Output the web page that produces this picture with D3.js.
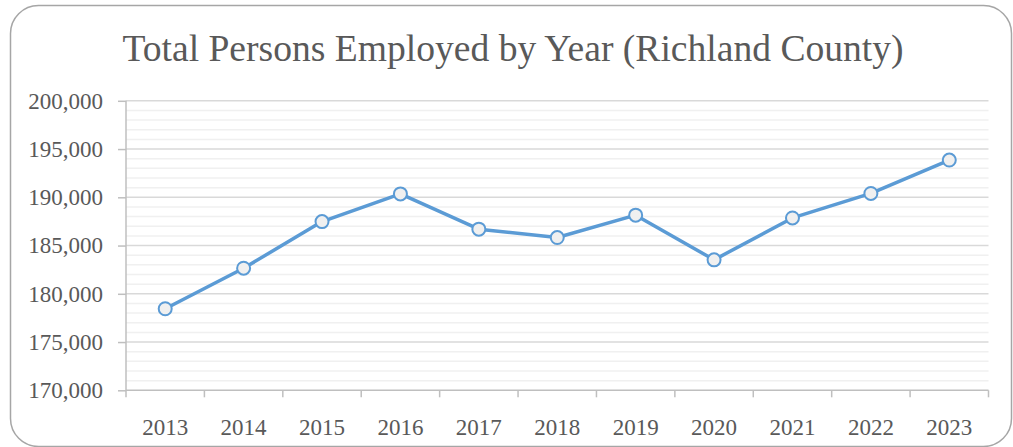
<!DOCTYPE html>
<html>
<head>
<meta charset="utf-8">
<script src="https://cdn.jsdelivr.net/npm/d3@7"></script>
<style>
  html, body { margin: 0; padding: 0; background: #ffffff; }
  svg { display: block; }
</style>
</head>
<body>
<svg id="chart" width="1013" height="447"></svg>
<script>
// Employment totals, Richland County
const years = ["2013", "2014", "2015", "2016", "2017", "2018", "2019", "2020", "2021", "2022", "2023"];
const employed = [178450, 182650, 187480, 190350, 186700, 185830, 188150, 183520, 187860, 190400, 193860];
const yTicks = [170000, 175000, 180000, 185000, 190000, 195000, 200000];
const chartTitle = "Total Persons Employed by Year (Richland County)";

const W = 1013, H = 447;
const margin = { left: 126, right: 1013 - 988.5, top: 100.8, bottom: 447 - 390.3 };
const svg = d3.select("#chart");
const serif = "'Liberation Serif', 'Times New Roman', serif";

// outer frame with rounded corners
svg.append("rect")
  .attr("x", 10.5).attr("y", 5.5)
  .attr("width", 1001).attr("height", 441)
  .attr("rx", 28).attr("ry", 28)
  .attr("fill", "#ffffff")
  .attr("stroke", "#a6a6a6")
  .attr("stroke-width", 1.5);

svg.append("text")
  .attr("x", 513).attr("y", 61)
  .attr("text-anchor", "middle")
  .attr("font-family", serif)
  .attr("font-size", 37.6)
  .attr("fill", "#595959")
  .text(chartTitle);

const x = d3.scaleBand()
  .domain(years)
  .range([margin.left, W - margin.right])
  .paddingInner(0).paddingOuter(0);

const y = d3.scaleLinear()
  .domain([170000, 200000])
  .range([H - margin.bottom, margin.top]);

const x0 = margin.left, x1 = W - margin.right;

// minor gridlines every 1,000
const minor = d3.range(171000, 200000, 1000).filter(v => v % 5000 !== 0);
svg.append("g").selectAll("line").data(minor).join("line")
  .attr("x1", x0).attr("x2", x1)
  .attr("y1", d => y(d)).attr("y2", d => y(d))
  .attr("stroke", "#f0f0f0").attr("stroke-width", 1.5);

// major gridlines every 5,000
svg.append("g").selectAll("line").data(yTicks.filter(v => v > 170000)).join("line")
  .attr("x1", x0).attr("x2", x1)
  .attr("y1", d => y(d)).attr("y2", d => y(d))
  .attr("stroke", "#d9d9d9").attr("stroke-width", 1.5);

// y axis
const yAxis = svg.append("g")
  .attr("transform", `translate(${x0},0)`)
  .call(d3.axisLeft(y).tickValues(yTicks).tickSize(8).tickPadding(15)
    .tickFormat(d3.format(",")));
yAxis.select(".domain").attr("stroke", "#bfbfbf").attr("stroke-width", 1.5)
  .attr("d", `M0,${y(200000)}V${y(170000)}`);
yAxis.selectAll(".tick line").attr("stroke", "#bfbfbf").attr("stroke-width", 1.5);
yAxis.selectAll(".tick text")
  .attr("font-family", serif).attr("font-size", 23).attr("fill", "#595959");

// x axis with ticks between categories
const xAxis = svg.append("g")
  .attr("transform", `translate(0,${y(170000)})`)
  .call(d3.axisBottom(x).tickSize(0).tickPadding(28));
xAxis.select(".domain").attr("stroke", "#bfbfbf").attr("stroke-width", 1.5)
  .attr("d", `M${x0},0H${x1}`);
xAxis.selectAll(".tick text")
  .attr("font-family", serif).attr("font-size", 23).attr("fill", "#595959");
const bounds = years.map(d => x(d)).concat([x1]);
xAxis.append("g").selectAll("line").data(bounds).join("line")
  .attr("x1", d => d).attr("x2", d => d)
  .attr("y1", 0).attr("y2", 7)
  .attr("stroke", "#bfbfbf").attr("stroke-width", 1.5);

// series line and markers
const cx = d => x(d) + x.bandwidth() / 2;
const pts = years.map((yr, i) => [cx(yr), y(employed[i])]);

svg.append("path")
  .attr("d", d3.line()(pts))
  .attr("fill", "none")
  .attr("stroke", "#5b9bd5")
  .attr("stroke-width", 3.5)
  .attr("stroke-linejoin", "round")
  .attr("stroke-linecap", "round");

svg.append("g").selectAll("circle").data(pts).join("circle")
  .attr("cx", d => d[0]).attr("cy", d => d[1])
  .attr("r", 6.5)
  .attr("fill", "#f0f0f0")
  .attr("stroke", "#5b9bd5")
  .attr("stroke-width", 2);
</script>
</body>
</html>
